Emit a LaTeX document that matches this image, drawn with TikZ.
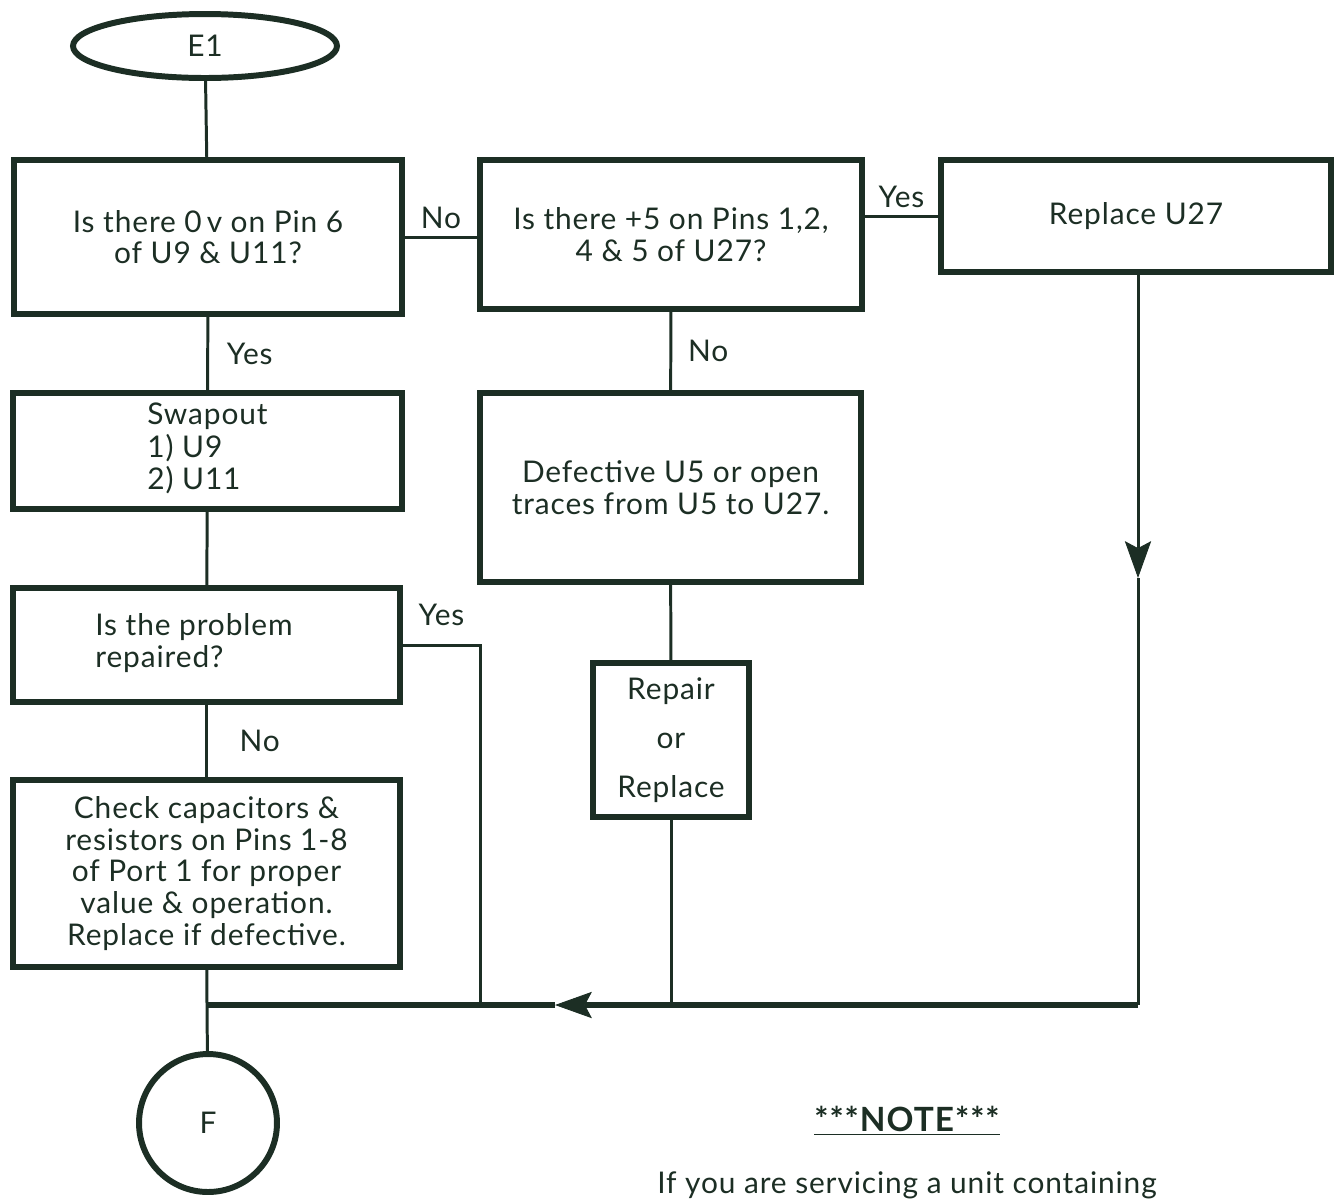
\documentclass[tikz,border=0pt]{standalone}
\usepackage{fontspec}
\setmainfont[LetterSpace=3]{Lato}
\usetikzlibrary{arrows.meta,shapes.geometric}
\definecolor{ink}{RGB}{28,46,36}

\begin{document}
\begin{tikzpicture}[x=0.02cm,y=-0.02cm,color=ink,
  >={Stealth[length=21pt,width=15pt,inset=4pt,fill=ink,line width=0.5pt]},
  txt/.style={font=\fontsize{17}{18}\selectfont},
  box/.style={draw,txt,rectangle,line width=3.4pt,align=center,inner sep=2pt},
  link/.style={draw,line width=1.7pt},
  lbl/.style={txt,inner sep=4pt}]
  \useasboundingbox (0,0) rectangle (1335,1198);

  % left column
  \node[ellipse,draw,txt,line width=3.4pt,minimum width=5.28cm,minimum height=1.28cm] (e1) at (205,46) {E1};
  \node[box,minimum width=7.76cm,minimum height=3.08cm] (pin6) at (208,237)
    {Is there 0\,v on Pin 6\\of U9 \& U11?};
  \node[box,minimum width=7.78cm,minimum height=2.32cm] (swap) at (207.5,451)
    {\begin{tabular}{@{}l@{}}Swapout\\1) U9\\2) U11\end{tabular}};
  \node[box,minimum width=7.74cm,minimum height=2.28cm] (fixed) at (206.5,645)
    {\begin{tabular}{@{}l@{\hspace{0.5cm}}}Is the problem\\repaired?\end{tabular}};
  \node[box,minimum width=7.74cm,minimum height=3.74cm] (check) at (206.5,873.5)
    {Check capacitors \&\\resistors on Pins 1-8\\of Port 1 for proper\\value \& operation.\\Replace if defective.};
  \node[circle,draw,txt,line width=3.4pt,minimum size=2.76cm] (f) at (208,1123) {F};

  % middle and right columns
  \node[box,minimum width=7.64cm,minimum height=2.98cm] (plus5) at (671,234.5)
    {Is there +5 on Pins 1,2,\\4 \& 5 of U27?};
  \node[box,minimum width=7.62cm,minimum height=3.78cm] (defect) at (670.5,487.5)
    {Defective U5 or open\\traces from U5 to U27.};
  \node[box,minimum width=3.12cm,minimum height=3.08cm] (repair) at (671,740)
    {Repair\\[10pt]or\\[10pt]Replace};
  \node[box,minimum width=7.8cm,minimum height=2.24cm] (u27) at (1136,216) {Replace U27};

  \coordinate (join) at (207,1005);
  \coordinate (rdown) at (1138,1005);
  \coordinate (rtip) at (1138,578);
  \coordinate (btip) at (555,1005);
  \coordinate (ybend) at (480,645);

  \draw[link] (e1) -- (pin6);
  \draw[link] (pin6.east) -- node[lbl,midway,above] {No} (pin6.east -| plus5.west);
  \draw[link] (u27.west -| plus5.east) -- node[lbl,midway,above] {Yes} (u27.west);
  \draw[link] (pin6) -- node[lbl,midway,right=6pt] {Yes} (swap);
  \draw[link] (swap) -- (fixed);
  \draw[link] (fixed) -- node[lbl,midway,right=14pt] {No} (check);
  \draw[link] (plus5) -- node[lbl,midway,right=5pt] {No} (defect);
  \draw[link] (defect) -- (repair);
  \draw[link] (repair) -- (repair.south |- join);
  \draw[link] (fixed.east) -- node[lbl,midway,above=6pt] {Yes} (ybend) -- (ybend |- join);
  \draw[link,->] (u27.south -| rdown) -- (rtip);
  \draw[link] (rtip) -- (rdown);
  \draw[draw,line width=3pt,->] (rdown) -- (btip);
  \draw[draw,line width=3pt] (btip) -- (join);
  \draw[link] (check) -- (join) -- (f);

  % note
  \node[font=\fontsize{19}{21}\selectfont\bfseries] (note) at (907,1121) {\underline{***NOTE***}};
  \node[txt,anchor=base] (notetext) at (907,1193) {If you are servicing a unit containing};
\end{tikzpicture}
\end{document}
